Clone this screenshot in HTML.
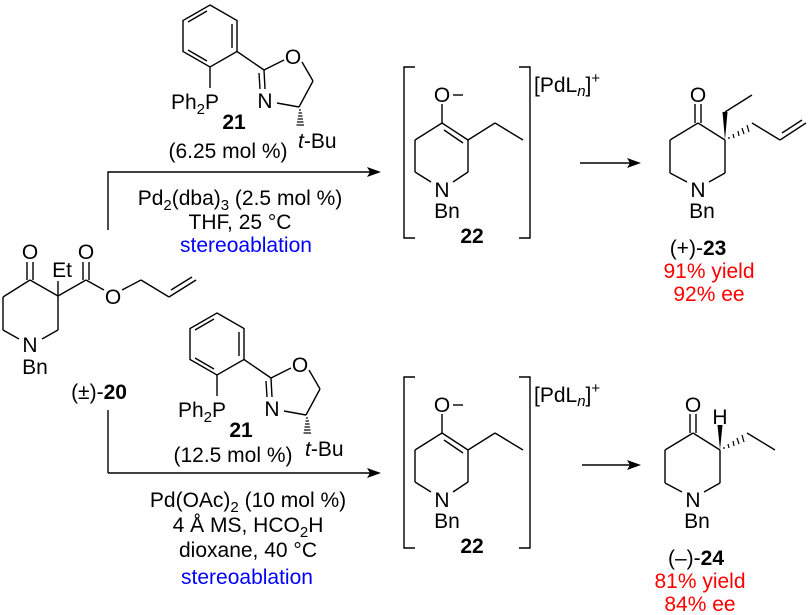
<!DOCTYPE html>
<html><head><meta charset="utf-8"><style>
html,body{margin:0;padding:0;background:#fff;}
svg{display:block;}
text{font-family:"Liberation Sans",Arial,sans-serif;font-size:21px;fill:#000;}
.b{font-weight:bold;}
.blue{fill:#0000ff;}
.red{fill:#ff0000;}
</style></head><body>
<svg width="810" height="615" viewBox="0 0 810 615" xmlns="http://www.w3.org/2000/svg">
<defs>
<g id="lig" stroke="#000" stroke-width="1.4" fill="none">
<polygon points="210,5 237,20.5 237,51.5 210,67 183,51.5 183,20.5"/>
<line x1="207" y1="11" x2="188" y2="22"/>
<line x1="232" y1="24" x2="232" y2="48"/>
<line x1="207" y1="61" x2="188" y2="50"/>
<line x1="210" y1="67" x2="210" y2="88"/>
<line x1="237" y1="51.5" x2="264" y2="70"/>
<line x1="264" y1="70" x2="284" y2="60"/>
<line x1="302" y1="62" x2="313" y2="81"/>
<line x1="313" y1="81" x2="299" y2="107"/>
<line x1="299" y1="107" x2="277" y2="103"/>
<line x1="264" y1="70" x2="265" y2="89"/>
<line x1="259" y1="73" x2="260" y2="89"/>
<g stroke-width="1.2">
<line x1="299" y1="110" x2="301" y2="110"/>
<line x1="298.5" y1="113" x2="302" y2="113"/>
<line x1="298" y1="116" x2="302.5" y2="116"/>
<line x1="297.5" y1="119" x2="303" y2="119"/>
<line x1="297" y1="122" x2="303.5" y2="122"/>
<line x1="296.5" y1="125" x2="304" y2="125"/>
</g>
</g>
<g id="lig-t">
<text x="219" y="109" text-anchor="end">Ph<tspan font-size="15" dy="5">2</tspan><tspan dy="-5">P</tspan></text>
<text x="265" y="108" text-anchor="middle">N</text>
<text x="293" y="64" text-anchor="middle">O</text>
<text x="234" y="129" text-anchor="middle" class="b">21</text>
<text x="298" y="148"><tspan font-style="italic">t</tspan>-Bu</text>
</g>
<g id="enol" stroke="#000" stroke-width="1.4" fill="none">
<line x1="442" y1="104" x2="442" y2="123"/>
<line x1="453" y1="95" x2="463" y2="95"/>
<line x1="442" y1="123" x2="468" y2="140"/>
<line x1="444" y1="130" x2="463" y2="143"/>
<line x1="468" y1="140" x2="468" y2="172"/>
<line x1="468" y1="172" x2="453" y2="182"/>
<line x1="431" y1="182" x2="415" y2="172"/>
<line x1="415" y1="172" x2="415" y2="140"/>
<line x1="415" y1="140" x2="442" y2="123"/>
<line x1="468" y1="140" x2="495" y2="123"/>
<line x1="495" y1="123" x2="523" y2="140"/>
<polyline points="415,67 404,67 404,238 415,238"/>
<polyline points="519,67 530,67 530,238 519,238"/>
</g>
<g id="enol-t">
<text x="442" y="102" text-anchor="middle">O</text>
<text x="442" y="197" text-anchor="middle">N</text>
<text x="447" y="218" text-anchor="middle">Bn</text>
<text x="472" y="243" text-anchor="middle" class="b">22</text>
<text x="534" y="92">[PdL<tspan font-size="15" font-style="italic" dy="4">n</tspan><tspan dy="-4">]</tspan><tspan font-size="15" dy="-9">+</tspan></text>
</g>
</defs>

<g stroke="#000" stroke-width="1.4" fill="none">
<line x1="3" y1="297" x2="30" y2="280"/>
<line x1="30" y1="280" x2="58" y2="296"/>
<line x1="58" y1="296" x2="58" y2="330"/>
<line x1="58" y1="330" x2="42" y2="339"/>
<line x1="19" y1="339" x2="3" y2="330"/>
<line x1="3" y1="330" x2="3" y2="297"/>
<line x1="27" y1="280" x2="27" y2="262"/>
<line x1="33" y1="280" x2="33" y2="262"/>
<line x1="58" y1="296" x2="58" y2="281"/>
<line x1="58" y1="296" x2="86" y2="280"/>
<line x1="83" y1="280" x2="83" y2="262"/>
<line x1="89" y1="280" x2="89" y2="262"/>
<line x1="86" y1="280" x2="104" y2="290"/>
<line x1="122" y1="290" x2="141" y2="280"/>
<line x1="141" y1="280" x2="169" y2="297"/>
<line x1="169" y1="297" x2="196" y2="280"/>
<line x1="171" y1="290" x2="192" y2="277"/>
</g>
<text x="30" y="259" text-anchor="middle">O</text>
<text x="86" y="259" text-anchor="middle">O</text>
<text x="62" y="277" text-anchor="middle">Et</text>
<text x="113" y="304" text-anchor="middle">O</text>
<text x="30" y="352" text-anchor="middle">N</text>
<text x="35" y="374" text-anchor="middle">Bn</text>
<text x="99" y="399" text-anchor="middle">(±)-<tspan class="b">20</tspan></text>

<use href="#lig"/>
<use href="#lig-t"/>
<text x="228" y="158" text-anchor="middle">(6.25 mol %)</text>
<g stroke="#000" stroke-width="1.4" fill="none">
<polyline points="108,230 108,172 372,172"/>
<polyline points="108,473 108,410"/>
<line x1="108" y1="473" x2="372" y2="473"/>
<line x1="580" y1="163" x2="633" y2="163"/>
<line x1="582" y1="465" x2="633" y2="465"/>
</g>
<polygon points="381,172 367,167 370,172 367,177" fill="#000"/>
<polygon points="381,473 367,468 370,473 367,478" fill="#000"/>
<polygon points="641,163 627,158 630,163 627,168" fill="#000"/>
<polygon points="641,465 627,460 630,465 627,470" fill="#000"/>
<text x="240" y="205" text-anchor="middle">Pd<tspan font-size="15" dy="5">2</tspan><tspan dy="-5">(dba)</tspan><tspan font-size="15" dy="5">3</tspan><tspan dy="-5"> (2.5 mol %)</tspan></text>
<text x="240" y="229" text-anchor="middle">THF, 25 °C</text>
<text x="246" y="252" text-anchor="middle" class="blue">stereoablation</text>

<use href="#enol"/>
<use href="#enol-t"/>

<g stroke="#000" stroke-width="1.4" fill="none">
<line x1="695" y1="104" x2="695" y2="123"/>
<line x1="701" y1="104" x2="701" y2="123"/>
<line x1="670" y1="140" x2="698" y2="123"/>
<line x1="698" y1="123" x2="725" y2="140"/>
<line x1="725" y1="140" x2="725" y2="173"/>
<line x1="725" y1="173" x2="709" y2="182"/>
<line x1="687" y1="182" x2="670" y2="173"/>
<line x1="670" y1="173" x2="670" y2="140"/>
<line x1="725" y1="112" x2="752" y2="95"/>
<line x1="752" y1="123" x2="780" y2="140"/>
<line x1="780" y1="140" x2="806" y2="123"/>
<line x1="782" y1="133" x2="802" y2="120"/>
</g>
<polygon points="725,140 722.5,112 727.5,112" fill="#000"/>
<g stroke="#000" stroke-width="1.2">
<line x1="729" y1="137" x2="729" y2="139"/>
<line x1="733" y1="134" x2="734" y2="138"/>
<line x1="738" y1="131" x2="739" y2="136"/>
<line x1="742" y1="128" x2="744" y2="134"/>
<line x1="747" y1="125" x2="749" y2="132"/>
</g>
<text x="698" y="102" text-anchor="middle">O</text>
<text x="698" y="197" text-anchor="middle">N</text>
<text x="702" y="218" text-anchor="middle">Bn</text>
<text x="698" y="255" text-anchor="middle">(+)-<tspan class="b">23</tspan></text>
<text x="709" y="278" text-anchor="middle" class="red">91% yield</text>
<text x="709" y="301" text-anchor="middle" class="red">92% ee</text>

<g transform="translate(7,308)">
<use href="#lig"/>
<use href="#lig-t"/>
</g>
<text x="233" y="462" text-anchor="middle">(12.5 mol %)</text>
<text x="248" y="507" text-anchor="middle">Pd(OAc)<tspan font-size="15" dy="5">2</tspan><tspan dy="-5"> (10 mol %)</tspan></text>
<text x="248" y="532" text-anchor="middle">4 Å MS, HCO<tspan font-size="15" dy="5">2</tspan><tspan dy="-5">H</tspan></text>
<text x="248" y="557" text-anchor="middle">dioxane, 40 °C</text>
<text x="247" y="584" text-anchor="middle" class="blue">stereoablation</text>

<g transform="translate(0,310)">
<use href="#enol"/>
<use href="#enol-t"/>
</g>

<g stroke="#000" stroke-width="1.4" fill="none">
<line x1="690" y1="414" x2="690" y2="433"/>
<line x1="696" y1="414" x2="696" y2="433"/>
<line x1="665" y1="450" x2="693" y2="433"/>
<line x1="693" y1="433" x2="720" y2="450"/>
<line x1="720" y1="450" x2="720" y2="483"/>
<line x1="720" y1="483" x2="704" y2="492"/>
<line x1="682" y1="492" x2="665" y2="483"/>
<line x1="665" y1="483" x2="665" y2="450"/>
<line x1="747" y1="433" x2="775" y2="450"/>
</g>
<polygon points="720,450 717.5,425 722.5,425" fill="#000"/>
<g stroke="#000" stroke-width="1.2">
<line x1="724" y1="447" x2="724" y2="449"/>
<line x1="728" y1="444" x2="729" y2="448"/>
<line x1="733" y1="441" x2="734" y2="446"/>
<line x1="737" y1="438" x2="739" y2="444"/>
<line x1="742" y1="435" x2="744" y2="442"/>
</g>
<text x="693" y="412" text-anchor="middle">O</text>
<text x="720" y="424" text-anchor="middle">H</text>
<text x="693" y="507" text-anchor="middle">N</text>
<text x="697" y="528" text-anchor="middle">Bn</text>
<text x="696" y="565" text-anchor="middle">(–)-<tspan class="b">24</tspan></text>
<text x="700" y="588" text-anchor="middle" class="red">81% yield</text>
<text x="700" y="611" text-anchor="middle" class="red">84% ee</text>
</svg>
</body></html>
